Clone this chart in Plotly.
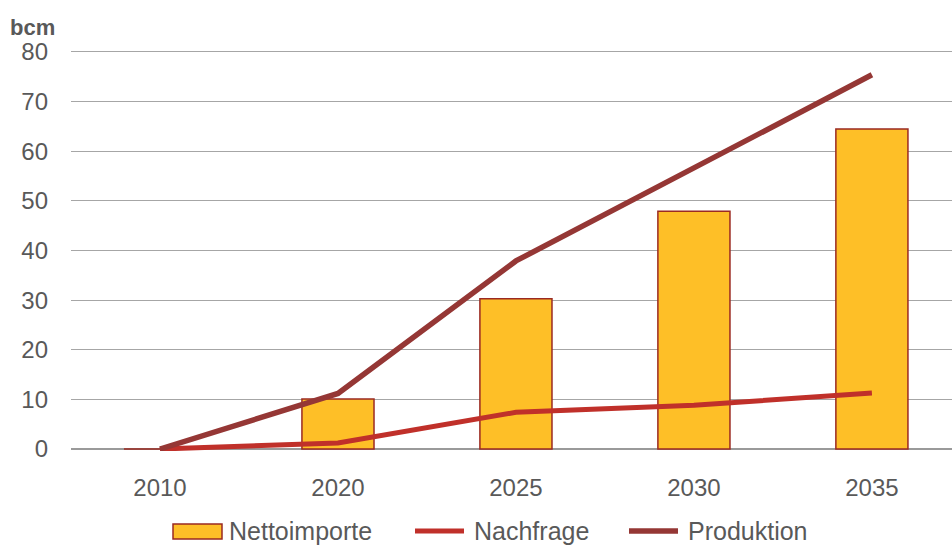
import plotly.graph_objects as go

# Gas balance projection (bcm)
years = ["2010", "2020", "2025", "2030", "2035"]
nettoimporte = [0, 10.1, 30.3, 47.9, 64.5]
nachfrage = [0, 1.2, 7.4, 8.8, 11.3]
produktion = [0, 11.2, 37.9, 56.7, 75.4]
y_ticks = [0, 10, 20, 30, 40, 50, 60, 70, 80]

FONT = "Liberation Sans, Arial, sans-serif"
TEXT = "#595959"
BAR_FILL = "#FEBF27"
BAR_EDGE = "#9B2A22"
C_NACHFRAGE = "#C0302A"
C_PRODUKTION = "#953735"

W, H = 952, 545
M_L, M_R, M_T, M_B = 71, 0, 50, 94
PLOT_W = W - M_L - M_R
PLOT_H = H - M_T - M_B


def px(x):
    """Horizontal pixel -> paper fraction."""
    return (x - M_L) / PLOT_W


def py(y):
    """Vertical pixel (from top) -> paper fraction."""
    return (H - M_B - y) / PLOT_H


fig = go.Figure()
fig.add_trace(go.Bar(
    x=years, y=nettoimporte, name="Nettoimporte",
    marker=dict(color=BAR_FILL, line=dict(color=BAR_EDGE, width=1.5)),
))
fig.add_trace(go.Scatter(
    x=years, y=nachfrage, name="Nachfrage", mode="lines",
    line=dict(color=C_NACHFRAGE, width=5),
))
fig.add_trace(go.Scatter(
    x=years, y=produktion, name="Produktion", mode="lines",
    line=dict(color=C_PRODUKTION, width=5.5),
))

# Legend row below the axis: wide swatches like the office-style key
legend_y = 531
shapes = [
    dict(type="rect", xref="paper", yref="paper",
         x0=px(173), x1=px(222), y0=py(539), y1=py(524),
         fillcolor=BAR_FILL, line=dict(color=BAR_EDGE, width=1.5)),
    dict(type="line", xref="paper", yref="paper",
         x0=px(415), x1=px(464), y0=py(legend_y), y1=py(legend_y),
         line=dict(color=C_NACHFRAGE, width=5)),
    dict(type="line", xref="paper", yref="paper",
         x0=px(629), x1=px(678), y0=py(legend_y), y1=py(legend_y),
         line=dict(color=C_PRODUKTION, width=5.5)),
]
legend_labels = [("Nettoimporte", 227), ("Nachfrage", 472), ("Produktion", 686)]

annotations = [dict(
    text="<b>bcm</b>", xref="paper", yref="paper", x=-0.071, y=1.02,
    xanchor="left", yanchor="bottom", showarrow=False,
    font=dict(family=FONT, size=22, color=TEXT),
)]
for label, x_left in legend_labels:
    annotations.append(dict(
        text=label, xref="paper", yref="paper", x=px(x_left), y=py(legend_y),
        xanchor="left", yanchor="middle", showarrow=False,
        font=dict(family=FONT, size=25, color=TEXT),
    ))

fig.update_layout(
    width=W, height=H,
    margin=dict(l=M_L, r=M_R, t=M_T, b=M_B, autoexpand=False),
    plot_bgcolor="white", paper_bgcolor="white",
    bargap=0.595,
    font=dict(family=FONT, size=24, color=TEXT),
    showlegend=False,
    xaxis=dict(
        type="category", range=[-0.5, 4.45],
        showgrid=False, showline=False, zeroline=False,
        ticks="", ticklabelstandoff=20,
        tickfont=dict(size=24, color=TEXT),
    ),
    yaxis=dict(
        range=[-0.4, 80.4], tickvals=y_ticks,
        showgrid=True, gridcolor="#A6A6A6", gridwidth=1.3,
        zeroline=True, zerolinecolor="#9A9A9A", zerolinewidth=1.6,
        showline=False, ticks="", ticklabelstandoff=22,
        tickfont=dict(size=24, color=TEXT),
    ),
    shapes=shapes,
    annotations=annotations,
)

fig.write_html("out.html")
